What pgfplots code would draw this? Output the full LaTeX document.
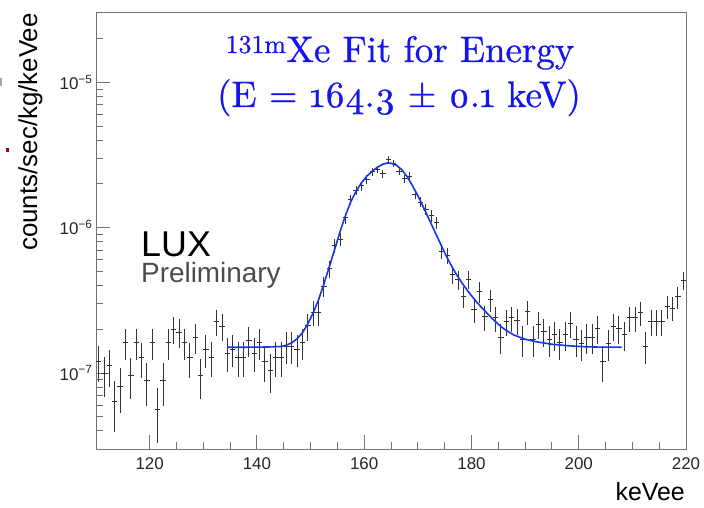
\documentclass[border=0pt]{standalone}
\usepackage{fontspec}
\usepackage{pgfplots}
\usepackage{pgfplotstable}
\pgfplotsset{compat=1.18}
\setmainfont{Liberation Sans}
\newfontfamily\titlefont{lmroman10-regular.otf}[Numbers=OldStyle, FakeBold=0.8]
\newfontfamily\titlelin{lmroman10-regular.otf}[FakeBold=0.8]
\definecolor{titleblue}{RGB}{20,20,235}
\definecolor{fitblue}{RGB}{25,55,225}

% binned spectrum: bin centre, rate, error
\pgfplotstableread{
x y ey
110.5 1.202e-7 0.335e-7
111.5 0.989e-7 0.304e-7
112.5 1.123e-7 0.324e-7
113.5 0.638e-7 0.244e-7
114.5 0.809e-7 0.275e-7
115.5 1.609e-7 0.388e-7
116.5 0.963e-7 0.300e-7
117.5 1.609e-7 0.388e-7
118.5 1.274e-7 0.345e-7
119.5 0.885e-7 0.288e-7
120.5 1.609e-7 0.388e-7
121.5 0.559e-7 0.229e-7
122.5 0.885e-7 0.288e-7
123.5 1.609e-7 0.388e-7
124.5 2.008e-7 0.434e-7
125.5 1.915e-7 0.423e-7
126.5 1.609e-7 0.388e-7
127.5 1.274e-7 0.345e-7
128.5 1.769e-7 0.407e-7
129.5 0.958e-7 0.300e-7
130.5 1.447e-7 0.368e-7
131.5 1.280e-7 0.346e-7
132.5 2.265e-7 0.461e-7
133.5 2.093e-7 0.443e-7
134.5 1.373e-7 0.359e-7
135.5 1.463e-7 0.370e-7
136.5 1.280e-7 0.346e-7
137.5 1.280e-7 0.346e-7
138.5 1.676e-7 0.396e-7
139.5 1.373e-7 0.359e-7
140.5 1.609e-7 0.388e-7
141.5 1.202e-7 0.335e-7
142.5 1.042e-7 0.312e-7
143.5 1.280e-7 0.346e-7
144.5 1.280e-7 0.346e-7
145.5 1.524e-7 0.378e-7
146.5 1.524e-7 0.378e-7
147.5 1.463e-7 0.370e-7
148.5 1.609e-7 0.388e-7
149.5 2.116e-7 0.445e-7
150.5 2.613e-7 0.495e-7
151.5 2.613e-7 0.495e-7
152.5 3.944e-7 0.608e-7
153.5 5.222e-7 0.699e-7
154.5 7.578e-7 0.842e-7
155.5 8.308e-7 0.882e-7
156.5 11.66e-7 1.045e-7
157.5 15.58e-7 1.208e-7
158.5 17.97e-7 1.298e-7
159.5 19.36e-7 1.347e-7
160.5 21.53e-7 1.420e-7
161.5 24.29e-7 1.509e-7
162.5 25.23e-7 1.537e-7
163.5 23.53e-7 1.485e-7
164.5 29.38e-7 1.659e-7
165.5 27.57e-7 1.607e-7
166.5 24.40e-7 1.512e-7
167.5 21.63e-7 1.424e-7
168.5 22.55e-7 1.454e-7
169.5 17.00e-7 1.262e-7
170.5 14.98e-7 1.185e-7
171.5 13.36e-7 1.119e-7
172.5 12.09e-7 1.065e-7
173.5 10.88e-7 1.010e-7
174.5 6.87e-7 0.802e-7
175.5 6.42e-7 0.776e-7
176.5 4.75e-7 0.667e-7
177.5 4.37e-7 0.640e-7
178.5 3.35e-7 0.560e-7
179.5 4.41e-7 0.643e-7
180.5 2.73e-7 0.506e-7
181.5 3.63e-7 0.583e-7
182.5 2.429e-7 0.477e-7
183.5 3.195e-7 0.547e-7
184.5 2.391e-7 0.473e-7
185.5 1.769e-7 0.407e-7
186.5 2.265e-7 0.461e-7
187.5 2.391e-7 0.473e-7
188.5 2.301e-7 0.464e-7
189.5 1.695e-7 0.398e-7
190.5 2.654e-7 0.499e-7
191.5 1.695e-7 0.398e-7
192.5 2.174e-7 0.451e-7
193.5 1.933e-7 0.425e-7
194.5 1.695e-7 0.398e-7
195.5 1.835e-7 0.415e-7
196.5 1.624e-7 0.390e-7
197.5 1.835e-7 0.415e-7
198.5 2.184e-7 0.452e-7
199.5 1.695e-7 0.398e-7
200.5 1.591e-7 0.386e-7
201.5 1.769e-7 0.407e-7
202.5 1.769e-7 0.407e-7
203.5 2.018e-7 0.435e-7
204.5 1.196e-7 0.335e-7
205.5 1.591e-7 0.386e-7
206.5 2.093e-7 0.443e-7
207.5 2.018e-7 0.435e-7
208.5 1.835e-7 0.415e-7
209.5 2.391e-7 0.473e-7
210.5 2.391e-7 0.473e-7
211.5 2.588e-7 0.492e-7
212.5 1.524e-7 0.378e-7
213.5 2.265e-7 0.461e-7
214.5 2.265e-7 0.461e-7
215.5 2.265e-7 0.461e-7
216.5 2.873e-7 0.519e-7
217.5 2.801e-7 0.512e-7
218.5 3.335e-7 0.559e-7
219.5 4.338e-7 0.637e-7
}\spectrum

\begin{document}
\begin{tikzpicture}[x=1bp,y=1bp]
\useasboundingbox (0,0) rectangle (704,508);
\begin{axis}[
  at={(96bp,59bp)}, anchor=south west,
  scale only axis, width=590bp, height=436bp,
  ymode=log,
  xmin=110, xmax=220, ymin=3e-8, ymax=3e-5,
  xtick={120,140,160,180,200,220},
  xticklabels={120,140,160,180,200,220},
  minor x tick num=3,
  ytick={1e-7,1e-6,1e-5},
  yticklabels={10\textsuperscript{−7},10\textsuperscript{−6},10\textsuperscript{−5}},
  minor ytick={4e-8,5e-8,6e-8,7e-8,8e-8,9e-8,2e-7,3e-7,4e-7,5e-7,6e-7,7e-7,8e-7,9e-7,2e-6,3e-6,4e-6,5e-6,6e-6,7e-6,8e-6,9e-6,2e-5},
  tick pos=left, tick align=inside,
  major tick length=14bp, minor tick length=7bp,
  every tick/.style={black!55, line width=0.9bp},
  axis line style={black!55, line width=1bp},
  ticklabel style={font=\fontsize{17}{20}\selectfont, text=black!85},
  xticklabel style={yshift=-5bp},
  clip=false,
]
\addplot[draw=none, mark=none, forget plot,
  error bars/.cd, x dir=both, x fixed=0.5, y dir=both, y explicit,
  error mark=none, error bar style={draw=black!80, line width=1bp, solid}]
  table[x=x, y=y, y error=ey] {\spectrum};
\addplot[fitblue, line width=1.6bp] coordinates {
(134.5,1.505e-7) (138,1.505e-7) (142,1.510e-7) (144.5,1.522e-7) (145.5,1.554e-7)
(146.5,1.616e-7) (147.5,1.722e-7) (148.5,1.894e-7) (149.5,2.184e-7) (150.5,2.600e-7)
(151.5,3.195e-7) (152.5,4.117e-7) (153.5,5.390e-7) (154.5,7.112e-7) (155.5,9.386e-7)
(156.5,12.09e-7) (157.5,15.10e-7) (158.5,17.83e-7) (159.5,20.40e-7) (160.5,22.62e-7)
(161.5,24.48e-7) (162.5,26.08e-7) (163.5,27.35e-7) (164.3,27.88e-7) (165,27.75e-7)
(166,26.92e-7) (167,25.07e-7) (168,22.44e-7) (169,19.46e-7) (170,16.61e-7)
(171,13.95e-7) (172,11.62e-7) (173,9.688e-7) (174,8.074e-7) (175,6.729e-7)
(176,5.697e-7) (177,4.901e-7) (178,4.283e-7) (179,3.803e-7) (180,3.404e-7)
(181,3.071e-7) (182,2.792e-7) (183,2.559e-7) (184,2.346e-7) (185,2.167e-7)
(186,2.018e-7) (187,1.909e-7) (188,1.820e-7) (190,1.708e-7) (192,1.642e-7)
(195,1.578e-7) (198,1.541e-7) (201,1.517e-7) (204,1.507e-7) (208,1.505e-7)
};
\end{axis}
% axis titles, ROOT style
\node[rotate=90, anchor=base east, inner sep=0pt, font=\fontsize{26}{30}\selectfont] at (37,495) {counts/sec/kg/keVee};
\node[anchor=base east, inner sep=0pt, font=\fontsize{25}{30}\selectfont] at (685,7) {keVee};
% fit title
\node[anchor=base, inner sep=0pt, text=titleblue, font=\titlefont\fontsize{37}{42}\selectfont] at (400,446)
  {{\titlelin\textsuperscript{131m}}Xe Fit for Energy};
\node[anchor=base, inner sep=0pt, text=titleblue, font=\titlefont\fontsize{37}{42}\selectfont] at (399,401)
  {(E = 164.3 ± 0.1 keV)};
% collaboration tag
\node[anchor=base west, inner sep=0pt, font=\fontsize{36}{40}\selectfont] at (141,251) {LUX};
\node[anchor=base west, inner sep=0pt, text=black!70, font=\fontsize{28}{32}\selectfont] at (141,225) {Preliminary};
% stray marks at the left edge of the slide
\fill[red!65!black] (5.5,356) rectangle (9,360);
\fill[black!35] (0,422) rectangle (1.5,430);
\end{tikzpicture}
\end{document}
